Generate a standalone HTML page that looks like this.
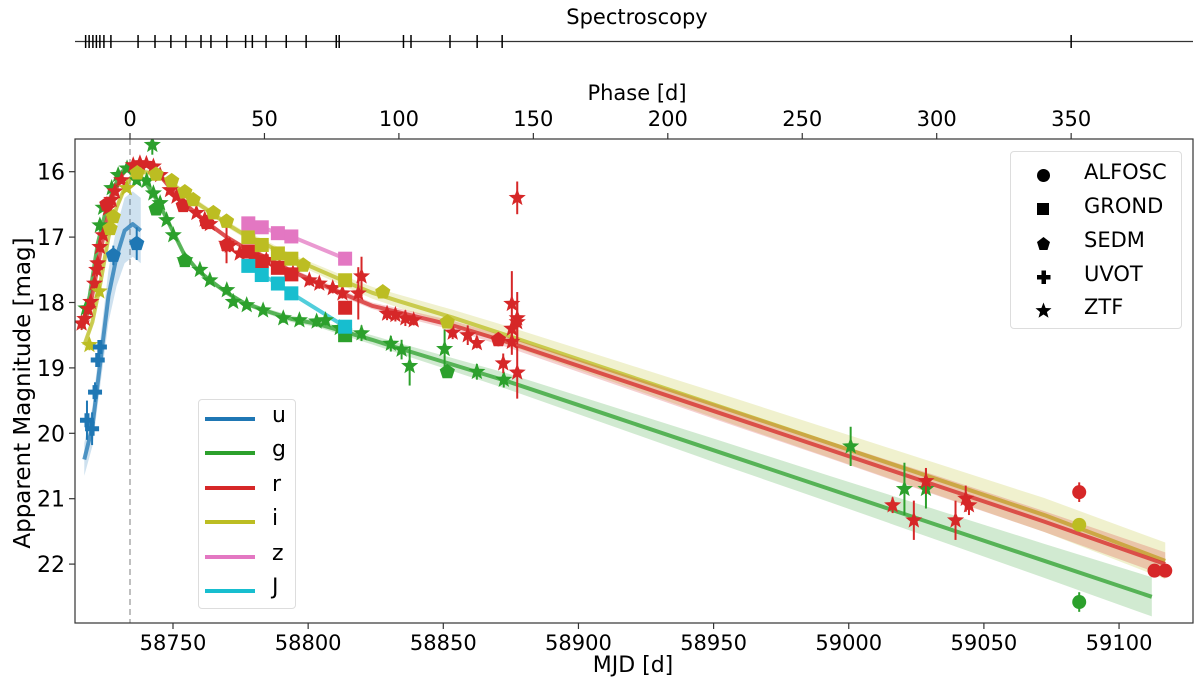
<!DOCTYPE html>
<html><head><meta charset="utf-8"><style>
html,body{margin:0;padding:0;background:#fff;}
svg{display:block;font-family:"DejaVu Sans","Liberation Sans",sans-serif;}
</style></head><body>
<svg id="chart" width="1200" height="688" viewBox="0 0 1200 688" xmlns="http://www.w3.org/2000/svg">
<rect width="1200" height="688" fill="#fff"/>
<g id="bands"></g>
<g id="points"></g>
<g id="axes"></g>
</svg>
<script>
// ---------- data (phase in days, magnitudes) ----------
const xTicksMJD = [58750,58800,58850,58900,58950,59000,59050,59100];
const phaseTicks = [0,50,100,150,200,250,300,350];
const yTicks = [16,17,18,19,20,21,22];
const spectraPhases = [-16.5,-15.2,-13.8,-12.5,-11.2,-9.7,-7.1,3,9.3,15.2,20.8,26.4,30.1,36,43,45.5,50.6,58.1,65.5,76.7,77.8,101.7,104.5,119,129.1,138.4,350];

const uModelPh = [-17,-14,-11,-8,-5,-2,1,4];
const uModelMag = [20.4,19.9,18.9,17.9,17.3,16.9,16.8,16.9];
const uModelErr = [0.25,0.3,0.35,0.4,0.45,0.5,0.5,0.5];

const gModelPh = [-18,-15,-12,-9,-6,-3,-1,2,5,8,11,14,17,20,25,30,36,42,50,60,70,80,90,100,120,140,180,220,260,300,340,380];
const gModelMag = [18.4,17.9,17.1,16.6,16.25,16.0,15.95,16.0,16.12,16.3,16.5,16.75,17.0,17.25,17.5,17.67,17.85,18.0,18.12,18.25,18.33,18.45,18.57,18.7,18.95,19.2,19.75,20.3,20.85,21.4,21.95,22.5];
const gModelErr = [0.05,0.05,0.05,0.04,0.04,0.04,0.04,0.04,0.04,0.04,0.04,0.04,0.04,0.04,0.04,0.04,0.04,0.04,0.04,0.05,0.05,0.06,0.07,0.08,0.1,0.12,0.15,0.18,0.2,0.23,0.26,0.3];

const rModelPh = [-18,-15,-12,-9,-6,-3,0,3,6,9,12,15,20,25,30,36,42,50,60,70,80,90,100,120,140,180,220,260,300,340,385];
const rModelMag = [18.35,18.1,17.45,16.8,16.35,16.05,15.9,15.87,15.9,15.95,16.1,16.25,16.48,16.65,16.82,17.0,17.15,17.3,17.52,17.7,17.88,18.05,18.15,18.35,18.6,19.15,19.7,20.25,20.8,21.35,22.0];
const rModelErr = [0.05,0.05,0.05,0.04,0.04,0.04,0.04,0.04,0.04,0.04,0.04,0.04,0.04,0.04,0.04,0.04,0.04,0.04,0.04,0.05,0.05,0.05,0.06,0.07,0.08,0.1,0.12,0.13,0.15,0.16,0.18];

const iModelPh = [-17,-14,-11,-8,-5,-2,1,4,8,12,16,20,25,30,36,42,50,60,70,80,90,100,120,140,180,220,260,300,340,385];
const iModelMag = [18.65,18.3,17.7,17.0,16.55,16.25,16.05,16.0,16.02,16.1,16.2,16.32,16.48,16.62,16.8,16.95,17.1,17.32,17.5,17.68,17.85,17.98,18.23,18.5,19.05,19.6,20.15,20.7,21.25,21.95];
const iModelErr = [0.06,0.06,0.05,0.05,0.05,0.05,0.05,0.05,0.05,0.05,0.05,0.05,0.05,0.05,0.05,0.05,0.06,0.06,0.07,0.08,0.09,0.1,0.12,0.14,0.17,0.2,0.22,0.24,0.26,0.28];

const zModelPh = [44,49,55,60,80];
const zModelMag = [16.79,16.85,16.94,16.99,17.33];
const jModelPh = [44,49,55,60,80];
const jModelMag = [17.44,17.58,17.71,17.86,18.37];

// observations: [phase, mag, err]
const ztfR = [[-18,18.32,0.1],[-16.8,18.25,0.1],[-15.6,18.1,0.08],[-14.6,17.99,0.08],[-13.2,17.71,0.1],[-12.4,17.5,0.1],[-12,17.4,0.08],[-11.2,17.15,0.08],[-10,16.97,0.06],[-8.2,16.56,0.05],[-6.8,16.43,0.05],[-5.6,16.3,0.05],[-3.1,16.13,0.05],[1.2,15.9,0.04],[3.7,15.87,0.04],[6.1,15.88,0.04],[8.7,15.92,0.04],[11.2,16.05,0.04],[14.9,16.28,0.04],[17.3,16.38,0.04],[24.7,16.63,0.05],[27.8,16.73,0.05],[29.7,16.8,0.05],[35.9,17.1,0.3],[37.1,17.13,0.1],[40.8,17.25,0.06],[45.7,17.28,0.06],[50.7,17.35,0.06],[55.6,17.45,0.06],[60.6,17.55,0.06],[66.7,17.66,0.08],[70.4,17.71,0.08],[75.4,17.78,0.08],[79,17.86,0.08],[84.9,17.86,0.4],[86.1,17.6,0.3],[95.6,18.17,0.1],[98.7,18.19,0.1],[102.4,18.24,0.12],[105.5,18.27,0.08],[120,18.46,0.1],[125.6,18.5,0.15],[129,18.62,0.08],[138.8,18.93,0.15],[142,18.02,0.5],[142,18.4,0.15],[142,18.6,0.2],[144,18.24,0.4],[144,18.3,0.3],[144,19.07,0.4],[144,16.4,0.25],[283.6,21.1,0.12],[291.5,21.33,0.3],[296,20.73,0.2],[307,21.33,0.3],[310.8,21.0,0.2],[312,21.1,0.15]];
const ztfG = [[-16.4,18.09,0.1],[-11.2,16.82,0.08],[-10,16.55,0.06],[-6.8,16.25,0.05],[-4.4,16.05,0.05],[-1.1,15.95,0.05],[8.3,15.59,0.15],[2.5,16.13,0.04],[6.2,16.14,0.04],[8.7,16.33,0.05],[11.2,16.48,0.05],[13.6,16.74,0.05],[16.1,16.97,0.05],[20.4,17.35,0.05],[26,17.5,0.06],[29.7,17.66,0.06],[36,17.81,0.06],[38.4,17.99,0.06],[43.4,18.04,0.06],[49.5,18.12,0.06],[57,18.24,0.07],[63,18.27,0.07],[69.4,18.29,0.08],[72.7,18.27,0.08],[78,18.39,0.08],[86.1,18.47,0.12],[97,18.63,0.12],[101,18.72,0.15],[104,18.97,0.3],[117,18.71,0.3],[129,19.06,0.12],[139,19.18,0.12],[268,20.2,0.3],[288,20.85,0.4],[296,20.85,0.3]];
const ztfI = [[-15.1,18.65,0.08],[-11.4,17.83,0.08],[-1.2,16.25,0.06]];
const uvotU = [[-16,19.8,0.3],[-14.1,19.93,0.25],[-13,19.37,0.15],[-12,18.88,0.1],[-11.2,18.68,0.08]];
const sedmU = [[-6.2,17.28,0.15],[2.5,17.1,0.25]];
const sedmG = [[9.7,16.57,0.05],[20.4,17.36,0.05],[118,19.06,0.05]];
const sedmR = [[-8.6,16.5,0.05],[19.8,16.52,0.05],[28.5,16.78,0.05],[36,17.12,0.05],[137,18.57,0.1]];
const sedmI = [[-7.4,16.87,0.05],[-6.2,16.69,0.05],[2.7,16.02,0.04],[9.7,16.04,0.04],[15.5,16.14,0.04],[20.4,16.31,0.04],[23.5,16.43,0.04],[31,16.63,0.04],[35.9,16.76,0.04],[64.4,17.43,0.04],[94,17.84,0.05],[118,18.3,0.05]];
const grondG = [[80,18.5,0.03]];
const grondR = [[44,17.22,0.03],[49,17.37,0.03],[55,17.47,0.03],[60,17.57,0.03],[80,18.08,0.03]];
const grondI = [[44,17.0,0.03],[49,17.12,0.03],[55,17.25,0.03],[60,17.33,0.03],[80,17.66,0.03]];
const grondZ = [[44,16.79,0.03],[49,16.85,0.03],[55,16.94,0.03],[60,16.99,0.03],[80,17.33,0.03]];
const grondJ = [[44,17.44,0.03],[49,17.58,0.03],[55,17.71,0.03],[60,17.86,0.03],[80,18.37,0.03]];
const alfoscG = [[353,22.58,0.15]];
const alfoscR = [[353,20.9,0.15],[381,22.1,0.1],[385,22.1,0.05]];
const alfoscI = [[353,21.4,0.05]];

// ---------- scales ----------
const AX = {l:75, r:1193, t:139, b:623};
function xP(p){ return 130 + p*2.689; }
function xM(m){ return 173 + (m-58750)*2.703; }
function yM(m){ return 171.7 + (m-16)*65.4; }
const C = {u:'#1f77b4', g:'#2ca02c', r:'#d62728', i:'#bcbd22', z:'#e377c2', J:'#17becf'};
const NS = 'http://www.w3.org/2000/svg';
function mk(tag, attrs, parent){ const e=document.createElementNS(NS,tag); for(const k in attrs) e.setAttribute(k,attrs[k]); parent.appendChild(e); return e; }
const svg = document.getElementById('chart');
const gBands = document.getElementById('bands'), gPts = document.getElementById('points'), gAx = document.getElementById('axes');

const defs = mk('defs',{},svg);
const cp = mk('clipPath',{id:'clip'},defs);
mk('rect',{x:AX.l,y:AX.t,width:AX.r-AX.l,height:AX.b-AX.t},cp);
gBands.setAttribute('clip-path','url(#clip)');
gPts.setAttribute('clip-path','url(#clip)');

const dl = mk('line',{x1:xP(0),x2:xP(0),y1:AX.t,y2:AX.b,stroke:'#aaa','stroke-width':1.5,'stroke-dasharray':'6,4'},gBands);



function band(ph, mag, err, col, name){
  if(err){
    let up = ph.map((p,k)=>xP(p)+','+yM(mag[k]-err[k])).join(' ');
    let dn = ph.map((p,k)=>xP(p)+','+yM(mag[k]+err[k])).reverse().join(' ');
    const pg = mk('polygon',{points:up+' '+dn,fill:col,'fill-opacity':0.22},gBands);
    
    
  }
  const pl = mk('polyline',{points:ph.map((p,k)=>xP(p)+','+yM(mag[k])).join(' '),fill:'none',stroke:col,'stroke-width':4,'stroke-opacity':0.75,'stroke-linejoin':'round'},gBands);
  
  
}
band(uModelPh,uModelMag,uModelErr,C.u,'u');
band(gModelPh,gModelMag,gModelErr,C.g,'g');
band(iModelPh,iModelMag,iModelErr,C.i,'i');
band(rModelPh,rModelMag,rModelErr,C.r,'r');
band(zModelPh,zModelMag,null,C.z,'z');
band(jModelPh,jModelMag,null,C.J,'J');

function marker(shape, cx, cy, col, parent){
  let e;
  if(shape==='circle') e = mk('circle',{cx:cx,cy:cy,r:7,fill:col},parent);
  else if(shape==='square') e = mk('rect',{x:cx-7,y:cy-7,width:14,height:14,fill:col},parent);
  else if(shape==='pentagon'){ let pts=[]; for(let k=0;k<5;k++){const a=-Math.PI/2+k*2*Math.PI/5; pts.push((cx+8*Math.cos(a))+','+(cy+8*Math.sin(a)));} e = mk('polygon',{points:pts.join(' '),fill:col},parent); }
  else if(shape==='plus') e = mk('path',{d:`M${cx-7},${cy-2.5}h4.5v-4.5h5v4.5h4.5v5h-4.5v4.5h-5v-4.5h-4.5z`,fill:col},parent);
  else { let pts=[]; for(let k=0;k<10;k++){const a=-Math.PI/2+k*Math.PI/5; const rr=k%2?3.8:9; pts.push((cx+rr*Math.cos(a))+','+(cy+rr*Math.sin(a)));} e = mk('polygon',{points:pts.join(' '),fill:col},parent); }
  return e;
}
function series(data, shape, col, name){
  const g = mk('g',{},gPts);
  
  
  data.forEach(d=>{
    const cx=xP(d[0]), cy=yM(d[1]);
    mk('line',{x1:cx,x2:cx,y1:yM(d[1]-d[2]),y2:yM(d[1]+d[2]),stroke:col,'stroke-width':2},g);
    const m = marker(shape,cx,cy,col,g);
    
    
  });
}
series(ztfG,'star',C.g,'ztf-g');
series(ztfR,'star',C.r,'ztf-r');
series(ztfI,'star',C.i,'ztf-i');
series(uvotU,'plus',C.u,'uvot-u');
series(sedmU,'pentagon',C.u,'sedm-u');
series(sedmG,'pentagon',C.g,'sedm-g');
series(sedmR,'pentagon',C.r,'sedm-r');
series(sedmI,'pentagon',C.i,'sedm-i');
series(grondG,'square',C.g,'grond-g');
series(grondR,'square',C.r,'grond-r');
series(grondI,'square',C.i,'grond-i');
series(grondZ,'square',C.z,'grond-z');
series(grondJ,'square',C.J,'grond-j');
series(alfoscG,'circle',C.g,'alfosc-g');
series(alfoscR,'circle',C.r,'alfosc-r');
series(alfoscI,'circle',C.i,'alfosc-i');

const fr = mk('rect',{x:AX.l,y:AX.t,width:AX.r-AX.l,height:AX.b-AX.t,fill:'none',stroke:'#333','stroke-width':1.2},gAx);


xTicksMJD.forEach(m=>{
  const x=xM(m);
  mk('line',{x1:x,x2:x,y1:AX.b,y2:AX.b+6,stroke:'#333','stroke-width':1.2},gAx);
  const t=mk('text',{x:x,y:AX.b+27,'text-anchor':'middle','font-size':21,fill:'#000'},gAx);
  t.textContent=m;
  
  
});
phaseTicks.forEach(p=>{
  const x=xP(p);
  mk('line',{x1:x,x2:x,y1:AX.t,y2:AX.t-6,stroke:'#333','stroke-width':1.2},gAx);
  const t=mk('text',{x:x,y:AX.t-13,'text-anchor':'middle','font-size':21,fill:'#000'},gAx);
  t.textContent=p;
  
  
});
yTicks.forEach(v=>{
  const y=yM(v);
  mk('line',{x1:AX.l,x2:AX.l-6,y1:y,y2:y,stroke:'#333','stroke-width':1.2},gAx);
  const t=mk('text',{x:AX.l-10,y:y+8,'text-anchor':'end','font-size':22,fill:'#000'},gAx);
  t.textContent=v;
  
  
});
const sl = mk('line',{x1:AX.l,x2:AX.r,y1:41.5,y2:41.5,stroke:'#333','stroke-width':1.2},gAx);


spectraPhases.forEach(p=>{
  const x=xP(p);
  const tk=mk('line',{x1:x,x2:x,y1:35,y2:48,stroke:'#000','stroke-width':1.5},gAx);
  
  
});
</script>
<div style="position:absolute;left:0;top:0;width:1200px;height:688px;pointer-events:none;font-family:'DejaVu Sans','Liberation Sans',sans-serif;">
  <div style="position:absolute;left:487px;width:300px;text-align:center;top:5px;font-size:21px;">Spectroscopy</div>
  <div style="position:absolute;left:487px;width:300px;text-align:center;top:81px;font-size:21px;">Phase [d]</div>
  <div style="position:absolute;left:483px;width:300px;text-align:center;top:653px;font-size:22px;">MJD [d]</div>
  <div style="position:absolute;left:-177px;top:379px;width:400px;text-align:center;font-size:23px;line-height:28px;transform:rotate(-90deg);">Apparent Magnitude [mag]</div>

  <div style="position:absolute;left:1010px;top:151px;width:170px;height:176px;border:1px solid #ddd;border-radius:4px;background:rgba(255,255,255,0.85);font-size:21px;">
    <div style="position:absolute;left:24px;top:8px;height:30px;"><span style="position:absolute;left:2px;top:9px;width:13px;height:13px;border-radius:50%;background:#000"></span><span style="position:absolute;left:49px;top:0;">ALFOSC</span></div>
    <div style="position:absolute;left:24px;top:42px;height:30px;"><span style="position:absolute;left:2px;top:9px;width:12px;height:12px;background:#000"></span><span style="position:absolute;left:49px;top:0;">GROND</span></div>
    <div style="position:absolute;left:24px;top:76px;height:30px;"><svg style="position:absolute;left:1px;top:8px" width="15" height="15"><polygon points="7.5,1 14,6 11.5,14 3.5,14 1,6" fill="#000"/></svg><span style="position:absolute;left:49px;top:0;">SEDM</span></div>
    <div style="position:absolute;left:24px;top:110px;height:30px;"><svg style="position:absolute;left:1px;top:8px" width="15" height="15"><path d="M1,5h4.5v-4.5h4.5v4.5h4.5v4.5h-4.5v4.5h-4.5v-4.5h-4.5z" fill="#000"/></svg><span style="position:absolute;left:49px;top:0;">UVOT</span></div>
    <div style="position:absolute;left:24px;top:143px;height:30px;"><svg style="position:absolute;left:0px;top:7px" width="17" height="17"><polygon points="8.5,0.5 10.6,6 16.5,6.3 11.9,10 13.5,15.8 8.5,12.5 3.5,15.8 5.1,10 0.5,6.3 6.4,6" fill="#000"/></svg><span style="position:absolute;left:49px;top:0;">ZTF</span></div>
  </div>

  <div style="position:absolute;left:198px;top:399px;width:96px;height:208px;border:1px solid #ddd;border-radius:4px;background:rgba(255,255,255,0.85);font-size:22px;">
    <div style="position:absolute;left:6px;top:6px;width:84px;height:28px;"><span style="position:absolute;left:0;top:11px;width:50px;height:4px;background:#1f77b4"></span><span style="position:absolute;left:67px;top:-3px;">u</span></div>
    <div style="position:absolute;left:6px;top:40px;width:84px;height:28px;"><span style="position:absolute;left:0;top:11px;width:50px;height:4px;background:#2ca02c"></span><span style="position:absolute;left:67px;top:-3px;">g</span></div>
    <div style="position:absolute;left:6px;top:75px;width:84px;height:28px;"><span style="position:absolute;left:0;top:11px;width:50px;height:4px;background:#d62728"></span><span style="position:absolute;left:67px;top:-3px;">r</span></div>
    <div style="position:absolute;left:6px;top:109px;width:84px;height:28px;"><span style="position:absolute;left:0;top:11px;width:50px;height:4px;background:#bcbd22"></span><span style="position:absolute;left:67px;top:-3px;">i</span></div>
    <div style="position:absolute;left:6px;top:144px;width:84px;height:28px;"><span style="position:absolute;left:0;top:11px;width:50px;height:4px;background:#e377c2"></span><span style="position:absolute;left:67px;top:-3px;">z</span></div>
    <div style="position:absolute;left:6px;top:178px;width:84px;height:28px;"><span style="position:absolute;left:0;top:11px;width:50px;height:4px;background:#17becf"></span><span style="position:absolute;left:67px;top:-3px;">J</span></div>
  </div>
</div>
</body></html>
